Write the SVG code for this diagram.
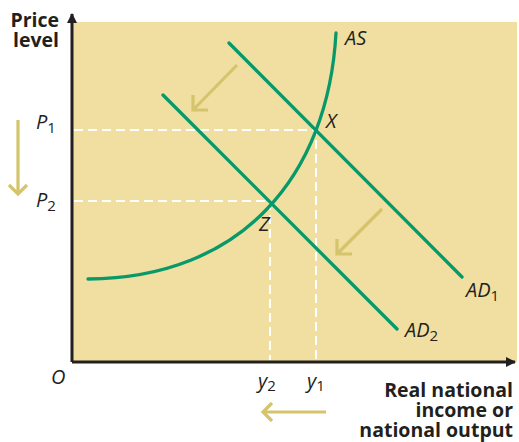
<svg xmlns="http://www.w3.org/2000/svg" width="519" height="442" viewBox="0 0 519 442">
<style>
.g{fill:none;stroke:#07996a;stroke-width:3.3;stroke-linecap:round}
.d{fill:none;stroke:#fff;stroke-width:2;stroke-dasharray:9,5}
.y{fill:none;stroke:#d6c46c;stroke-width:3.2;stroke-linejoin:miter}
.ax{fill:none;stroke:#231f20;stroke-width:3}
.lb{font-family:"Open Sans","Liberation Sans",sans-serif;font-style:italic;font-size:20px;fill:#231f20}
.sb{font-style:normal;font-size:15px}
.bd{font-family:"Open Sans","Liberation Sans",sans-serif;font-weight:bold;font-size:19.5px;fill:#231f20}
</style>
<defs>
<marker id="ah" viewBox="0 0 10 10" refX="9" refY="5" markerWidth="10" markerHeight="10" markerUnits="userSpaceOnUse" orient="auto"><path d="M0,0 L10,5 L0,10 Z" fill="#231f20"/></marker>
</defs>
<rect x="72" y="22" width="445" height="340" fill="#f0dfa0"/>
<g id="dashes">
<path class="d" d="M74,130 H316 V360"/>
<path class="d" d="M74,201 H270 V360"/>
</g>
<g id="connectors">
<path id="AS" class="g" d="M88,279 C242,278 328,176 336,33"/>
<path id="AD1" class="g" d="M229,43 L462,277"/>
<path id="AD2" class="g" d="M163,95 L397,329"/>
</g>
<g id="arrows">
<path class="y" d="M237,65 L193,110 M193,95 V110 H208"/>
<path class="y" d="M382,209 L337,254 M337,239 V254 H352"/>
<path class="y" d="M326,412 H263 M272,403 L263,412 L272,421"/>
<path class="y" d="M18,120 V194 M9,185 L18,194 L27,185"/>
</g>
<g id="axes">
<path class="ax" d="M72,362 V14" marker-end="url(#ah)"/>
<path class="ax" d="M72,362 H515" marker-end="url(#ah)"/>
</g>
<g id="labels">
<text class="bd" text-anchor="end"><tspan x="59" y="27">Price</tspan><tspan x="59" y="47">level</tspan></text>
<text class="bd" text-anchor="end"><tspan x="513" y="397">Real national</tspan><tspan x="513" y="417">income or</tspan><tspan x="513" y="437">national output</tspan></text>
<text class="lb" x="345" y="45">AS</text>
<text class="lb" x="326" y="128">X</text>
<text class="lb" x="259" y="231">Z</text>
<text class="lb" x="36" y="129">P<tspan class="sb" dy="4">1</tspan></text>
<text class="lb" x="36" y="207">P<tspan class="sb" dy="4">2</tspan></text>
<text class="lb" x="466" y="297">AD<tspan class="sb" dy="4">1</tspan></text>
<text class="lb" x="405" y="337">AD<tspan class="sb" dy="4">2</tspan></text>
<text class="lb" x="51" y="384">O</text>
<text class="lb" x="258" y="388">y<tspan class="sb" dy="3">2</tspan></text>
<text class="lb" x="307" y="388">y<tspan class="sb" dy="3">1</tspan></text>
</g>
</svg>
